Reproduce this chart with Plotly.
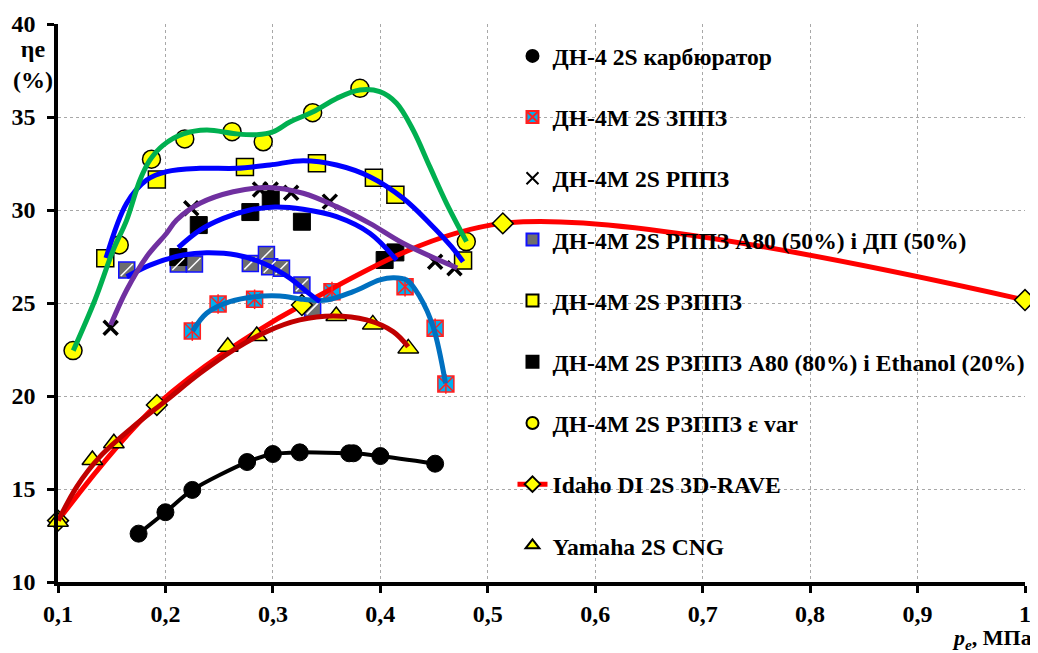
import plotly.graph_objects as go

# ---------------- data ----------------
carb_x = [0.175, 0.200, 0.225, 0.276, 0.300, 0.325, 0.371, 0.375, 0.400, 0.451]
carb_y = [12.60, 13.75, 14.95, 16.45, 16.88, 16.97, 16.92, 16.92, 16.77, 16.36]

zppz_x = [0.225, 0.249, 0.283, 0.355, 0.423, 0.451, 0.461]
zppz_y = [23.49, 24.95, 25.20, 25.61, 25.88, 23.64, 20.65]
zppz_curve_x = [0.2253, 0.2383, 0.2600, 0.2833, 0.3065, 0.3282, 0.3500, 0.3747,
                0.3995, 0.4119, 0.4244, 0.4367, 0.4491, 0.4607]
zppz_curve_y = [23.49, 24.45, 25.07, 25.34, 25.38, 25.20, 25.16, 25.61,
                26.24, 26.36, 26.24, 25.34, 23.73, 20.68]

rppz_x = [0.149, 0.224, 0.288, 0.298, 0.317, 0.353, 0.451, 0.469]
rppz_y = [23.67, 30.10, 31.10, 31.10, 30.93, 30.45, 27.22, 26.87]
rppz_curve_x = [0.1490, 0.1639, 0.1825, 0.2011, 0.2104, 0.2321, 0.2631, 0.2953,
                0.3282, 0.3593, 0.3902, 0.4212, 0.4716]
rppz_curve_y = [23.82, 25.70, 27.49, 28.75, 29.46, 30.36, 30.98, 31.21,
                30.90, 30.18, 29.28, 28.21, 26.88]

hatch_x = [0.164, 0.212, 0.227, 0.279, 0.294, 0.297, 0.308, 0.327, 0.337]
hatch_y = [26.77, 27.10, 27.10, 27.13, 27.61, 26.95, 26.87, 25.97, 24.71]
hatch_curve_x = [0.1639, 0.1856, 0.2166, 0.2383, 0.2662, 0.2926, 0.3158, 0.3314, 0.3437]
hatch_curve_y = [26.41, 27.04, 27.58, 27.70, 27.58, 27.10, 26.34, 25.61, 25.07]

rzppz_x = [0.144, 0.192, 0.274, 0.341, 0.394, 0.414, 0.477]
rzppz_y = [27.40, 31.64, 32.31, 32.51, 31.73, 30.82, 27.28]
rzppz_curve_x = [0.1447, 0.1639, 0.1825, 0.2011, 0.2321, 0.2662, 0.2972, 0.3282,
                 0.3593, 0.3902, 0.4212, 0.4460, 0.4662, 0.4770]
rzppz_curve_y = [27.42, 30.36, 31.61, 32.06, 32.24, 32.24, 32.42, 32.65,
                 32.42, 31.79, 30.63, 29.28, 28.03, 27.22]

eth_x = [0.212, 0.231, 0.279, 0.298, 0.327, 0.404, 0.414]
eth_y = [27.47, 29.19, 29.89, 30.56, 29.37, 27.31, 27.72]
eth_curve_x = [0.2119, 0.2321, 0.2538, 0.2786, 0.3019, 0.3282, 0.3593, 0.3902, 0.4151]
eth_curve_y = [27.98, 28.92, 29.55, 30.00, 30.16, 30.04, 29.64, 28.75, 27.31]

evar_x = [0.114, 0.157, 0.187, 0.218, 0.262, 0.291, 0.337, 0.381, 0.480]
evar_y = [22.44, 28.12, 32.73, 33.82, 34.21, 33.67, 35.23, 36.54, 28.30]
evar_curve_x = [0.1142, 0.1344, 0.1514, 0.1639, 0.1763, 0.1856, 0.1980, 0.2166, 0.2383,
                0.2650, 0.2850, 0.3000, 0.3158, 0.3375, 0.3593, 0.3809, 0.3995,
                0.4151, 0.4305, 0.4460, 0.4616, 0.4802]
evar_curve_y = [22.44, 25.16, 27.85, 29.46, 31.61, 32.69, 33.49, 34.09, 34.30,
                34.10, 34.05, 34.20, 34.73, 35.28, 36.00, 36.45, 36.36,
                35.74, 34.30, 32.33, 30.36, 28.30]

idaho_x = [0.100, 0.192, 0.327, 0.514, 1.000]
idaho_y = [13.30, 19.52, 24.89, 29.28, 25.16]

yam_x = [0.100, 0.132, 0.152, 0.258, 0.285, 0.359, 0.393, 0.426]
yam_y = [13.24, 16.56, 17.46, 22.65, 23.23, 24.30, 23.85, 22.56]
yam_curve_x = [0.1003, 0.1174, 0.1391, 0.1700, 0.2011, 0.2321, 0.2631, 0.2941,
               0.3251, 0.3561, 0.3872, 0.4119, 0.4259]
yam_curve_y = [13.30, 15.12, 16.74, 18.35, 19.78, 21.22, 22.47, 23.46,
               24.09, 24.30, 24.09, 23.46, 22.65]

names = [
    "ДН-4 2S карбюратор",
    "ДН-4М 2S ЗППЗ",
    "ДН-4М 2S РППЗ",
    "ДН-4М 2S РППЗ А80 (50%) і ДП (50%)",
    "ДН-4М 2S РЗППЗ",
    "ДН-4М 2S РЗППЗ А80 (80%) і Ethanol (20%)",
    "ДН-4М 2S РЗППЗ ε var",
    "Idaho DI 2S 3D-RAVE",
    "Yamaha 2S CNG",
]

x_ticks = [0.1, 0.2, 0.3, 0.4, 0.5, 0.6, 0.7, 0.8, 0.9, 1.0]
y_ticks = [10, 15, 20, 25, 30, 35, 40]

FONT = "Liberation Serif"
fig = go.Figure()

def mk(x, y, name, group, **marker):
    fig.add_trace(go.Scatter(x=x, y=y, mode="markers", name=name, legendgroup=group,
                             marker=marker, cliponaxis=False))

def curve(x, y, color, width=5, smoothing=1.0):
    fig.add_trace(go.Scatter(x=x, y=y, mode="lines", showlegend=False, hoverinfo="skip",
                             line=dict(color=color, width=width, shape="spline",
                                       smoothing=smoothing)))

# marker series (legend order)
mk(carb_x, carb_y, names[0], "g0", symbol="circle", size=17, color="black",
   line=dict(color="black", width=1))
mk(zppz_x, zppz_y, names[1], "g1", symbol="square-x", size=16, color="#00B0F0",
   line=dict(color="#FF2020", width=1.5))
mk(rppz_x, rppz_y, names[2], "g2", symbol="x-thin", size=14,
   line=dict(color="black", width=3.5))
mk(hatch_x, hatch_y, names[3], "g3", symbol="square", size=16, color="#6e6e6e",
   line=dict(color="#1010FF", width=1.5))
mk(rzppz_x, rzppz_y, names[4], "g4", symbol="square", size=17, color="#FFFF00",
   line=dict(color="black", width=1.5))
mk(eth_x, eth_y, names[5], "g5", symbol="square", size=17, color="black",
   line=dict(color="black", width=1))
mk(evar_x, evar_y, names[6], "g6", symbol="circle", size=18, color="#FFFF00",
   line=dict(color="black", width=1.5))
fig.add_trace(go.Scatter(x=idaho_x, y=idaho_y, mode="lines+markers", name=names[7],
                         legendgroup="g7", cliponaxis=False,
                         line=dict(color="#FF0000", width=5, shape="spline", smoothing=0.9),
                         marker=dict(symbol="diamond", size=16, color="#FFFF00",
                                     line=dict(color="black", width=1.5))))
mk(yam_x, yam_y, names[8], "g8", symbol="triangle-up", size=18, color="#FFFF00",
   line=dict(color="black", width=1.5))

# extra detail on markers (not in legend)
fig.add_trace(go.Scatter(x=zppz_x, y=zppz_y, mode="markers", showlegend=False,
                         hoverinfo="skip", cliponaxis=False,
                         marker=dict(symbol="line-ns", size=14,
                                     line=dict(color="#FF2020", width=1.5))))
fig.add_trace(go.Scatter(x=hatch_x, y=hatch_y, mode="markers", showlegend=False,
                         hoverinfo="skip", cliponaxis=False,
                         marker=dict(symbol="line-ne", size=12,
                                     line=dict(color="white", width=1.5))))

# fitted curves drawn over the markers
curve(carb_x, carb_y, "black", width=4, smoothing=0.8)
curve(zppz_curve_x, zppz_curve_y, "#0070C0")
curve(hatch_curve_x, hatch_curve_y, "#0000FF")
curve(rppz_curve_x, rppz_curve_y, "#7030A0")
curve(eth_curve_x, eth_curve_y, "#0000FF")
curve(rzppz_curve_x, rzppz_curve_y, "#0000FF")
curve(evar_curve_x, evar_curve_y, "#00B050")
curve(yam_curve_x, yam_curve_y, "#C00000")

axis_common = dict(
    showline=True, linecolor="black", linewidth=3.5,
    ticks="outside", ticklen=7, tickwidth=3, tickcolor="black",
    showgrid=True, gridcolor="#a8a8a8", gridwidth=1, griddash="dot",
    zeroline=False, automargin=False,
    tickfont=dict(family=FONT, size=24, color="black", weight="bold"),
)

fig.update_xaxes(range=[0.1, 1.0], tickvals=x_ticks, **axis_common)
fig.update_yaxes(range=[10, 40], tickvals=y_ticks, ticklabelstandoff=7, **axis_common)

# the page body adds an 8 px offset, so margins are shifted by 8 px
fig.update_layout(
    width=1038, height=653,
    margin=dict(l=50, r=21, t=16, b=79, autoexpand=False),
    paper_bgcolor="white", plot_bgcolor="white",
    separators=", ",
    font=dict(family=FONT, color="black"),
    legend=dict(
        x=0.470, y=0.982, xanchor="left", yanchor="top",
        bgcolor="rgba(0,0,0,0)",
        font=dict(family=FONT, size=23.6, color="black", weight="bold"),
        traceorder="grouped", tracegroupgap=27.5,
        itemsizing="constant",
    ),
    annotations=[
        dict(xref="paper", yref="paper", x=-0.026, y=0.928, xanchor="center",
             yanchor="middle", showarrow=False, align="center",
             text="ηe<br>(%)",
             font=dict(family=FONT, size=24, color="black", weight="bold")),
        dict(xref="paper", yref="paper", x=1.0093, y=-0.103, xanchor="right",
             yanchor="middle", showarrow=False,
             text="<i>p<sub>e</sub></i>, МПа",
             font=dict(family=FONT, size=22, color="black", weight="bold")),
    ],
)

fig.write_html("out.html")
